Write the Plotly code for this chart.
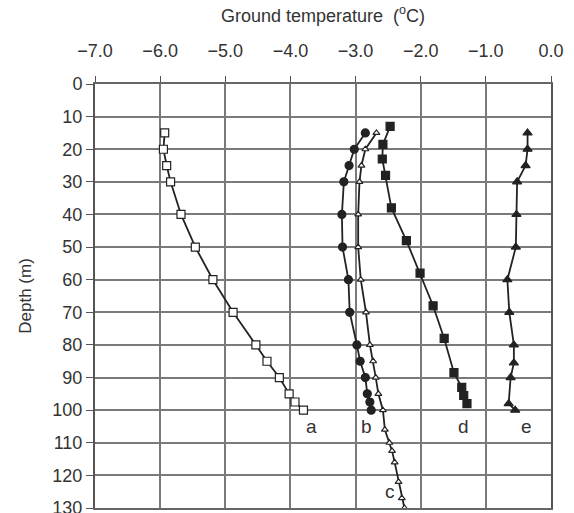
import plotly.graph_objects as go

# Series a (open squares)
a_temp = [-5.93, -5.95, -5.90, -5.84, -5.68, -5.46, -5.19, -4.88, -4.53, -4.36, -4.17, -4.02, -3.93, -3.80]
a_depth = [15, 20, 25, 30, 40, 50, 60, 70, 80, 85, 90, 95, 97.5, 100]

# Series b (filled circles)
b_temp = [-2.85, -3.02, -3.10, -3.18, -3.21, -3.20, -3.11, -3.09, -2.98, -2.93, -2.85, -2.82, -2.78, -2.76]
b_depth = [15, 20, 25, 30, 40, 50, 60, 70, 80, 85, 90, 95, 97.5, 100]

# Series c (open triangles)
c_temp = [-2.68, -2.85, -2.91, -2.94, -2.96, -2.96, -2.92, -2.84, -2.78, -2.73, -2.69, -2.65, -2.58,
          -2.55, -2.48, -2.44, -2.40, -2.34, -2.29, -2.25]
c_depth = [15, 20, 25, 30, 40, 50, 60, 70, 80, 85, 90, 95, 100,
           106, 110, 112.5, 116, 122, 127, 130]

# Series d (filled squares)
d_temp = [-2.47, -2.58, -2.59, -2.54, -2.45, -2.22, -2.01, -1.81, -1.64, -1.49, -1.37, -1.34, -1.29]
d_depth = [13, 18.5, 23, 28, 38, 48, 58, 68, 78, 88.5, 93, 95.5, 98]

# Series e (filled triangles)
e_temp = [-0.36, -0.36, -0.39, -0.52, -0.53, -0.54, -0.67, -0.64, -0.57, -0.57, -0.62, -0.65, -0.55]
e_depth = [15, 20, 25, 30, 40, 50, 60, 70, 80, 85.5, 90, 98, 100]

labels = ["a", "b", "c", "d", "e"]
label_x = [-3.67, -2.83, -2.47, -1.35, -0.38]
label_y = [105, 105, 125, 105, 105]

dark = "#222222"
grid = "#7a7a7a"
fig = go.Figure()

def add(x, y, symbol, size, fill):
    fig.add_trace(go.Scatter(
        x=x, y=y, mode="lines+markers",
        line=dict(color=dark, width=1.8),
        marker=dict(symbol=symbol, size=size, color=fill,
                    line=dict(color=dark, width=1.2)),
        showlegend=False, cliponaxis=False))

add(a_temp, a_depth, "square", 8, "white")
add(b_temp, b_depth, "circle", 8, dark)
add(c_temp, c_depth, "triangle-up", 6, "white")
add(d_temp, d_depth, "square", 8, dark)
add(e_temp, e_depth, "triangle-up", 8, dark)

for t, x, y in zip(labels, label_x, label_y):
    fig.add_annotation(x=x, y=y, text=t, showarrow=False,
                       font=dict(size=19, color="#333", family="Liberation Sans, Arial"))

fig.update_layout(
    width=574, height=513,
    margin=dict(l=95, r=23, t=84, b=5),
    paper_bgcolor="white", plot_bgcolor="white",
    font=dict(family="Liberation Sans, Arial", size=18, color="#333"),
    xaxis=dict(side="top", range=[-7, 0], dtick=1, tick0=-7, tickformat=".1f",
               automargin=False,
               showgrid=True, gridcolor=grid, gridwidth=1.8,
               showline=True, linecolor="#666", linewidth=1.8, mirror=True,
               ticks="outside", ticklen=6, tickcolor="#555",
               ticklabelstandoff=12, zeroline=False,
               title=dict(text="Ground temperature&nbsp;&nbsp;(<sup>o</sup>C)", standoff=14,
                          font=dict(size=18))),
    yaxis=dict(range=[130, 0], dtick=10, tick0=0, automargin=False,
               showgrid=True, gridcolor=grid, gridwidth=1.8,
               showline=True, linecolor="#555", linewidth=2, mirror=True,
               ticks="outside", ticklen=7, tickcolor="#555", zeroline=False,
               ticklabeloverflow="allow",
               title=dict(text="Depth (m)", standoff=16, font=dict(size=17))),
)

fig.write_html("out.html")
